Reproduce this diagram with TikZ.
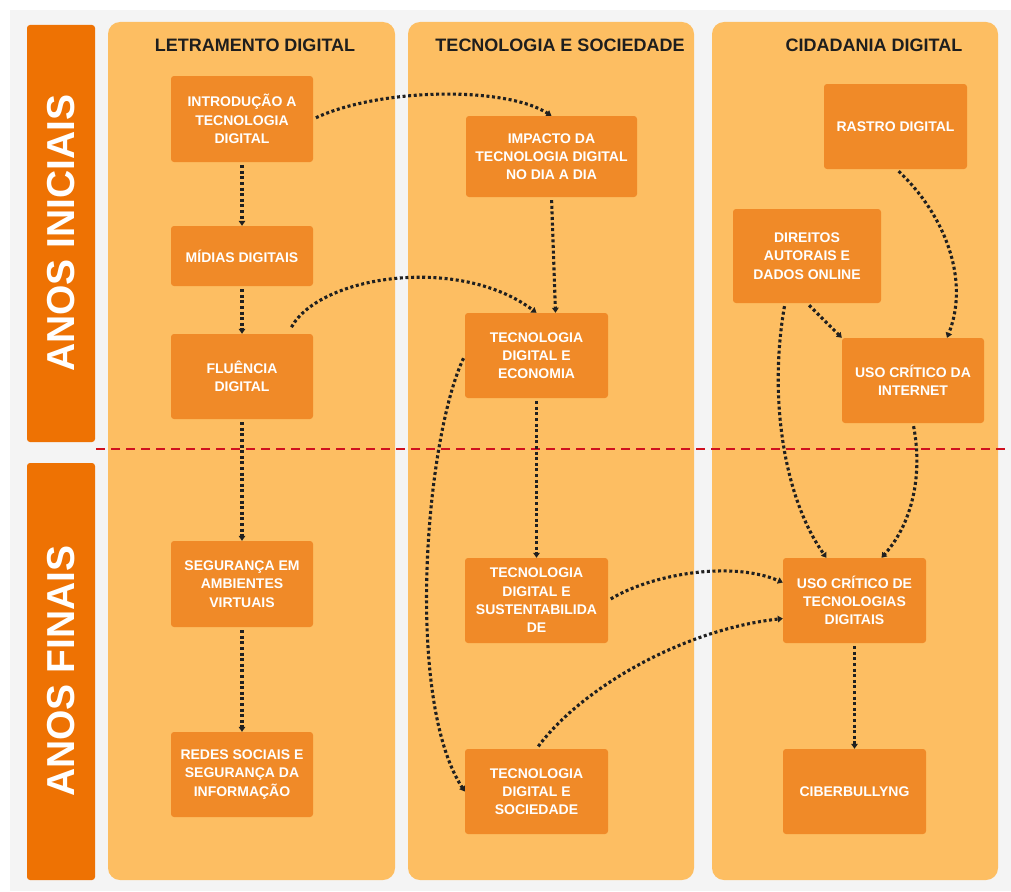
\documentclass[tikz,border=0pt]{standalone}
\usepackage{fontspec}
\setmainfont{Liberation Sans}
\usetikzlibrary{arrows.meta,calc}
\definecolor{pagebg}{HTML}{F4F4F4}
\definecolor{barfill}{HTML}{EE7203}
\definecolor{lanefill}{HTML}{FDBE62}
\definecolor{topicfill}{HTML}{F08A28}
\definecolor{ink}{HTML}{202020}
\definecolor{headink}{HTML}{1E1E1E}
\definecolor{stageline}{HTML}{CF1020}

\begin{document}
\begin{tikzpicture}[x=1pt,y=-1pt,
  topic/.style={fill=topicfill, rounded corners=3pt, text=white,
    font=\bfseries\fontsize{14}{18.3}\selectfont, align=center,
    inner sep=0pt, minimum width=143pt, minimum height=85pt},
  head/.style={text=headink, font=\bfseries\fontsize{18}{18}\selectfont, inner sep=0pt},
  stagetext/.style={rotate=90, text=white, font=\bfseries\fontsize{39}{39}\selectfont, inner sep=0pt},
  flow/.style={draw=ink, line width=3.1pt, dash pattern=on 3pt off 2.6pt,
    -{Triangle[length=5pt,width=6.5pt]}, shorten <=3pt}
]
\useasboundingbox (0,0) rectangle (1011,891);
\fill[white] (0,0) rectangle (1011,891);
\fill[pagebg] (10,10) rectangle (1011,891);

% stage bars
\fill[barfill, rounded corners=3pt] (27,25) rectangle (95,442);
\fill[barfill, rounded corners=3pt] (27,463) rectangle (95,880);
\node[stagetext] (ini) at (61,233) {ANOS INICIAIS};
\node[stagetext] (fin) at (61,671) {ANOS FINAIS};

% lanes
\fill[lanefill, rounded corners=12pt] (108,22) rectangle (395,880);
\fill[lanefill, rounded corners=12pt] (408,22) rectangle (694,880);
\fill[lanefill, rounded corners=12pt] (712,22) rectangle (998,880);
\node[head] (h1) at (255,45) {LETRAMENTO DIGITAL};
\node[head] (h2) at (560,45) {TECNOLOGIA E SOCIEDADE};
\node[head] (h3) at (874,45) {CIDADANIA DIGITAL};

% stage divider
\draw[stageline, line width=2.5pt, dash pattern=on 9pt off 6pt] (96,449) -- (1005,449);

% topics: letramento digital
\node[topic, minimum width=142pt, minimum height=86pt] (intro) at (242,119) {INTRODUÇÃO A\\TECNOLOGIA\\DIGITAL};
\node[topic, minimum width=142pt, minimum height=60pt] (midias) at (242,256) {MÍDIAS DIGITAIS};
\node[topic, minimum width=142pt] (fluencia) at (242,376.5) {FLUÊNCIA\\DIGITAL};
\node[topic, minimum width=142pt, minimum height=86pt] (seguranca) at (242,584) {SEGURANÇA EM\\AMBIENTES\\VIRTUAIS};
\node[topic, minimum width=142pt] (redes) at (242,774.5) {REDES SOCIAIS E\\SEGURANÇA DA\\INFORMAÇÃO};

% topics: tecnologia e sociedade
\node[topic, minimum width=171pt, minimum height=81pt] (impacto) at (551.5,156.5) {IMPACTO DA\\TECNOLOGIA DIGITAL\\NO DIA A DIA};
\node[topic] (economia) at (536.5,355.5) {TECNOLOGIA\\DIGITAL E\\ECONOMIA};
\node[topic] (sustent) at (536.5,600.5) {TECNOLOGIA\\DIGITAL E\\SUSTENTABILIDA\\DE};
\node[topic] (sociedade) at (536.5,791.5) {TECNOLOGIA\\DIGITAL E\\SOCIEDADE};

% topics: cidadania digital
\node[topic] (rastro) at (895.5,126.5) {RASTRO DIGITAL};
\node[topic, minimum width=148pt, minimum height=94pt] (direitos) at (807,256) {DIREITOS\\AUTORAIS E\\DADOS ONLINE};
\node[topic, minimum width=142pt] (usoint) at (913,380.5) {USO CRÍTICO DA\\INTERNET};
\node[topic] (usotec) at (854.5,600.5) {USO CRÍTICO DE\\TECNOLOGIAS\\DIGITAIS};
\node[topic] (ciber) at (854.5,791.5) {CIBERBULLYNG};

% connectors
\draw[flow] (intro.south) -- (midias.north);
\draw[flow] (midias.south) -- (fluencia.north);
\draw[flow] (fluencia.south) -- (seguranca.north);
\draw[flow] (seguranca.south) -- (redes.north);
\draw[flow] (intro.east) .. controls (380,88) and (505,86) .. (impacto.north);
\draw[flow] ($(fluencia.north)+(48,-4)$) .. controls (320,275) and (460,255) .. (economia.north);
\draw[flow] (impacto.south) -- ($(economia.north)+(19,0)$);
\draw[flow] (economia.south) -- (sustent.north);
\draw[flow] (economia.west) .. controls (425,440) and (405,700) .. (sociedade.west);
\draw[flow] (sustent.east) .. controls (650,575) and (730,560) .. ($(usotec.west)+(0,-18)$);
\draw[flow] (sociedade.north) .. controls (580,690) and (680,630) .. ($(usotec.west)+(0,18)$);
\draw[flow] (usotec.south) -- (ciber.north);
\draw[flow] ($(rastro.south)+(1,0)$) .. controls (945,215) and (970,280) .. ($(usoint.north)+(34,0)$);
\draw[flow] (direitos.south) -- (usoint.north west);
\draw[flow] ($(direitos.south)+(-22,0)$) .. controls (768,400) and (785,500) .. ($(usotec.north)+(-28,0)$);
\draw[flow] (usoint.south) .. controls (922,470) and (915,520) .. ($(usotec.north)+(27,0)$);
\end{tikzpicture}
\end{document}
